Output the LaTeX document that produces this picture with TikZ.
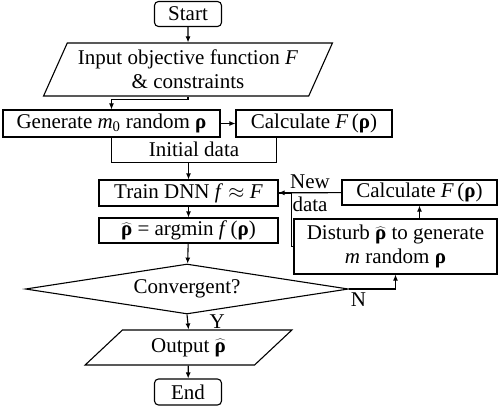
\documentclass[tikz,border=0pt]{standalone}
\usepackage{fontspec}
\setmainfont{Liberation Serif}
\usetikzlibrary{shapes.geometric,arrows.meta}

\begin{document}
\begin{tikzpicture}[x=1pt, y=-1pt, line width=1.1pt, >={Latex[length=6pt,width=5pt]}, every node/.style={font=\fontsize{21}{24}\selectfont}]
			\tikzstyle{box}=[draw,rectangle,inner sep=0pt]
			\tikzstyle{term}=[draw,rectangle,rounded corners=4pt,minimum width=67pt,minimum height=25pt,inner sep=0pt]
			\tikzstyle{io}=[draw,trapezium,trapezium stretches=true,inner sep=0pt]
			\def\vrho{\textbf{ρ}}
			\def\hrho{$\widehat{\mbox{\textbf{ρ}}}$}
			\useasboundingbox (0,0) rectangle (500,409);
			\node[term](start) at (188,14){Start};
			\node[io,trapezium left angle=61,trapezium right angle=119,minimum width=290pt,minimum height=53pt,align=center](input) at (188,69.5){Input objective function \textit{F}\\ \& constraints};
			\node[box,minimum width=217pt,minimum height=27pt](generate) at (111.5,123.5){Generate \textit{m}\textsubscript{0} random \vrho};
			\node[box,minimum width=156pt,minimum height=27pt](calcinit) at (314,123.5){Calculate \textit{F}\,(\vrho)};
			\node[minimum width=164pt,minimum height=25pt,inner sep=0pt](initdata) at (194,149.5){Initial data};
			\draw (initdata.north west) |- (initdata.south east) -- (initdata.north east);
			\node[box,minimum width=179pt,minimum height=26pt](train) at (188.5,193){Train DNN \textit{f} $\approx$ \textit{F}};
			\node[box,minimum width=179pt,minimum height=25pt](argmin) at (188.5,230.5){\hrho{} = argmin \textit{f}\,(\vrho)};
			\node[draw,diamond,aspect=6.46,minimum width=323pt,minimum height=50pt,inner sep=0pt](conv) at (187,289){Convergent?};
			\node[box,minimum width=203pt,minimum height=55pt,align=center](disturb) at (395.5,246.5){Disturb \hrho{} to generate\\ \textit{m} random \vrho};
			\node[box,minimum width=155pt,minimum height=25pt](calcnew) at (419.5,192.5){Calculate \textit{F}\,(\vrho)};
			\node[io,trapezium left angle=41,trapezium right angle=139,minimum width=207pt,minimum height=35pt](output) at (188.5,347.5){Output \hrho};
			\node[term,minimum height=26pt](end) at (188,392){End};
			\path[->] (start) edge (input)
			(generate) edge (calcinit)
			(train) edge (argmin)
			(argmin) edge (conv)
			(output) edge (end)
			(calcnew) edge node[above]{New} node[below]{data} (train);
			\draw[->] (input.south) -- ++(0,3) -| (generate.north);
			\draw[->] (train.north |- initdata.south) -- (train.north);
			\draw[->] (conv.east) -| node[pos=0.1,below]{N} (disturb.south);
			\draw[->] (disturb.north -| calcnew.south) -- (calcnew.south);
			\draw (disturb.west) -- ++(-2,0) |- (train.east);
			\draw[->] (conv.south) -- node[right=18pt]{Y} (output.north);
			\end{tikzpicture}
\end{document}
